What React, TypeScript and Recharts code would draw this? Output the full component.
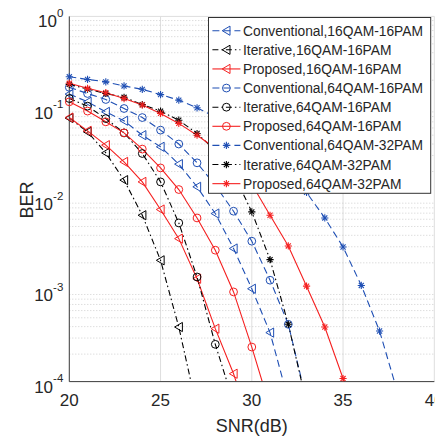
import React from "react"
import { LineChart, Line, XAxis, YAxis, CartesianGrid, ReferenceLine } from "recharts"

// SNR points (dB), one marker per dB
const snr = [20, 21, 22, 23, 24, 25, 26, 27, 28, 29, 30, 31, 32, 33, 34, 35, 36, 37, 38]

// BER, starting at 20 dB
const conv16x16 = [0.141, 0.116, 0.09, 0.072, 0.05, 0.0373, 0.0241, 0.0136, 0.00693, 0.00287, 0.00104, 3.44e-4, 6.3e-5]
const iter16x16 = [0.077, 0.0544, 0.032, 0.0161, 0.00664, 0.00213, 3.96e-4, 5e-5]
const prop16x16 = [0.078, 0.0558, 0.0389, 0.0255, 0.0154, 0.00767, 0.00368, 0.00134, 3.8e-4, 1.22e-4, 3e-5]
const conv64x16 = [0.167, 0.143, 0.123, 0.098, 0.078, 0.0568, 0.04, 0.0249, 0.0141, 0.00735, 0.00345, 0.00129, 4.24e-4, 6.2e-5]
const iter64x16 = [0.126, 0.104, 0.076, 0.053, 0.0315, 0.0154, 0.00547, 0.0014, 2.56e-4, 5.9e-5]
const prop64x16 = [0.116, 0.0918, 0.07, 0.053, 0.0352, 0.0219, 0.0127, 0.0062, 0.00275, 9.6e-4, 2.39e-4, 5.2e-5]
const conv64x32 = [0.218, 0.204, 0.192, 0.173, 0.159, 0.139, 0.121, 0.0998, 0.079, 0.06, 0.044, 0.03, 0.02, 0.0118, 0.0062, 0.00298, 0.00113, 3.58e-4, 7.5e-5]
const iter64x32 = [0.18, 0.16, 0.143, 0.13, 0.108, 0.0918, 0.073, 0.0522, 0.034, 0.019, 0.00722, 0.00217, 4.24e-4, 5.8e-5]
const prop64x32 = [0.185, 0.163, 0.146, 0.126, 0.107, 0.0866, 0.0673, 0.05, 0.036, 0.024, 0.0145, 0.00664, 0.00306, 0.00111, 3.96e-4, 1.08e-4, 2.5e-5]

const xTicks = [20, 25, 30, 35, 40]
const yTicks = [1e-4, 1e-3, 1e-2, 1e-1, 1]
const minorSteps = [2, 3, 4, 5, 6, 7, 8, 9]
const yMinor = yTicks.slice(0, -1).flatMap((d) => minorSteps.map((m) => d * m))

const BLUE = "#1f4fb4"
const BLACK = "#000000"
const RED = "#f52020"
const TXT = "#262626"
const FONT = '"Liberation Sans", Arial, sans-serif'

const DASH = "7 4"
const DASHDOT = "6 3 1.5 3"

const toPoints = (vals: number[]) => vals.map((v, i) => ({ snr: snr[i], ber: v }))

const series = [
  { name: "Conventional,16QAM-16PAM", vals: conv16x16, color: BLUE, dash: DASH, shape: "tri" },
  { name: "Iterative,16QAM-16PAM", vals: iter16x16, color: BLACK, dash: DASHDOT, shape: "tri" },
  { name: "Proposed,16QAM-16PAM", vals: prop16x16, color: RED, dash: undefined, shape: "tri" },
  { name: "Conventional,64QAM-16PAM", vals: conv64x16, color: BLUE, dash: DASH, shape: "circ" },
  { name: "Iterative,64QAM-16PAM", vals: iter64x16, color: BLACK, dash: DASHDOT, shape: "circ" },
  { name: "Proposed,64QAM-16PAM", vals: prop64x16, color: RED, dash: undefined, shape: "circ" },
  { name: "Conventional,64QAM-32PAM", vals: conv64x32, color: BLUE, dash: DASH, shape: "star" },
  { name: "Iterative,64QAM-32PAM", vals: iter64x32, color: BLACK, dash: DASHDOT, shape: "star" },
  { name: "Proposed,64QAM-32PAM", vals: prop64x32, color: RED, dash: undefined, shape: "star" },
]

function Marker({ shape, cx, cy, color }: { shape: string; cx: number; cy: number; color: string }) {
  if (shape === "tri") {
    return (
      <polygon
        points={`${cx - 4.2},${cy} ${cx + 3.6},${cy - 4.6} ${cx + 3.6},${cy + 4.6}`}
        fill="none"
        stroke={color}
        strokeWidth={1}
      />
    )
  }
  if (shape === "circ") {
    return <circle cx={cx} cy={cy} r={3.9} fill="none" stroke={color} strokeWidth={1} />
  }
  const r = 3.6
  const d = r * 0.707
  return (
    <g stroke={color} strokeWidth={1.1}>
      <line x1={cx - r} y1={cy} x2={cx + r} y2={cy} />
      <line x1={cx} y1={cy - r} x2={cx} y2={cy + r} />
      <line x1={cx - d} y1={cy - d} x2={cx + d} y2={cy + d} />
      <line x1={cx - d} y1={cy + d} x2={cx + d} y2={cy - d} />
    </g>
  )
}

const YTick = (props: any) => {
  const { x, y, payload } = props
  const exp = Math.round(Math.log10(payload.value))
  return (
    <text x={x} y={y + 11} textAnchor="end" fontSize={17} fill={TXT} fontFamily={FONT}>
      <tspan>10</tspan>
      <tspan dy={-10.5} fontSize={11.5}>{`${exp}`}</tspan>
    </text>
  )
}

function LegendBox() {
  const rowH = 19.12
  return (
    <svg
      width={224}
      height={178}
      style={{ position: "absolute", left: 200.3, top: 9, overflow: "visible" }}
    >
      <rect x={0.5} y={0.5} width={222.2} height={175.8} fill="#ffffff" stroke="#333333" strokeWidth={1} />
      {series.map((s, i) => {
        const cy = 13.7 + i * rowH
        return (
          <g key={s.name}>
            <line x1={4.4} y1={cy} x2={32.4} y2={cy} stroke={s.color} strokeWidth={1.1} strokeDasharray={s.dash} />
            <Marker shape={s.shape} cx={18.4} cy={cy} color={s.color} />
            <text x={35} y={cy + 5} fontSize={13.8} fill={TXT} fontFamily={FONT}>
              {s.name}
            </text>
          </g>
        )
      })}
    </svg>
  )
}

export default function App() {
  return (
    <div style={{ position: "relative", width: 435, height: 429, fontFamily: FONT }}>
      <LineChart width={435} height={429} margin={{ top: 8.4, right: 8.7, bottom: 4, left: 0 }}>
        <CartesianGrid stroke="#dedede" strokeWidth={1} />
        {yMinor.map((v) => (
          <ReferenceLine key={v} y={v} yAxisId="main" stroke="#c4c4c4" strokeDasharray="1 2" strokeWidth={0.8} />
        ))}
        <XAxis
          xAxisId="tickB"
          orientation="bottom"
          mirror
          height={0}
          type="number"
          dataKey="snr"
          domain={[20, 40]}
          ticks={xTicks}
          interval={0}
          tick={false}
          tickSize={3.5}
          tickLine={{ stroke: "#404040" }}
          axisLine={false}
        />
        <XAxis
          xAxisId={0}
          type="number"
          dataKey="snr"
          domain={[20, 40]}
          ticks={xTicks}
          interval={0}
          height={51.4}
          tickSize={0}
          tickMargin={12}
          tickLine={false}
          axisLine={{ stroke: "#404040" }}
          tick={{ fontSize: 17, fill: TXT, fontFamily: FONT }}
          label={{ value: "SNR(dB)", position: "insideBottom", offset: 1.5, fontSize: 18, fill: TXT, fontFamily: FONT }}
        />
        <XAxis
          xAxisId="top"
          orientation="top"
          mirror
          height={0}
          type="number"
          dataKey="snr"
          domain={[20, 40]}
          ticks={xTicks}
          interval={0}
          tick={false}
          tickSize={3.5}
          tickLine={{ stroke: "#404040" }}
          axisLine={{ stroke: "#404040" }}
        />
        <YAxis
          yAxisId="tickL"
          orientation="left"
          mirror
          width={0}
          scale="log"
          domain={[1e-4, 1]}
          allowDataOverflow
          ticks={[...yTicks, ...yMinor]}
          interval={0}
          tick={false}
          tickSize={3}
          tickLine={{ stroke: "#404040" }}
          axisLine={false}
        />
        <YAxis
          yAxisId="main"
          scale="log"
          domain={[1e-4, 1]}
          allowDataOverflow
          ticks={yTicks}
          interval={0}
          width={61.3}
          tickSize={0}
          tickMargin={6}
          tickLine={false}
          axisLine={{ stroke: "#404040" }}
          tick={<YTick />}
          label={{
            content: () => (
              <text
                x={18.7}
                y={192}
                transform="rotate(-90 18.7 192)"
                textAnchor="middle"
                dominantBaseline="central"
                fontSize={18}
                fill={TXT}
                fontFamily={FONT}
              >
                BER
              </text>
            ),
          }}
        />
        <YAxis
          yAxisId="right"
          orientation="right"
          mirror
          width={0}
          scale="log"
          domain={[1e-4, 1]}
          allowDataOverflow
          ticks={[...yTicks, ...yMinor]}
          interval={0}
          tick={false}
          tickSize={3}
          tickLine={{ stroke: "#404040" }}
          axisLine={{ stroke: "#404040" }}
        />
        {series.map((s) => (
          <Line
            key={s.name}
            yAxisId="main"
            data={toPoints(s.vals)}
            dataKey="ber"
            type="linear"
            stroke={s.color}
            strokeWidth={1.1}
            strokeDasharray={s.dash}
            isAnimationActive={false}
            activeDot={false}
            dot={(p: any) =>
              p.cx == null || p.cy == null ? (
                <g key={`${s.name}-${p.index}`} />
              ) : (
                <g key={`${s.name}-${p.index}`}>
                  <Marker shape={s.shape} cx={p.cx} cy={p.cy} color={s.color} />
                </g>
              )
            }
          />
        ))}
      </LineChart>
      <LegendBox />
    </div>
  )
}
